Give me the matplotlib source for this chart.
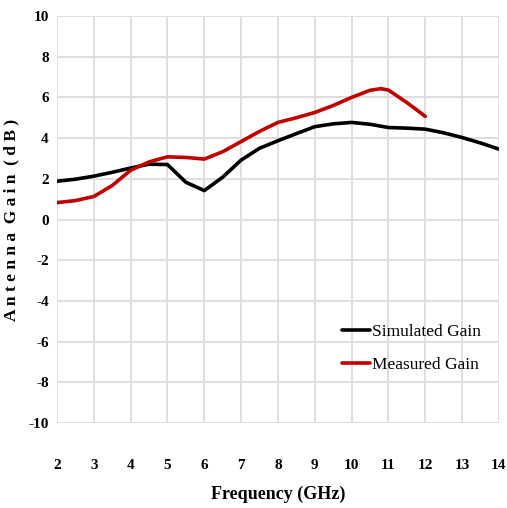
import numpy as np
import matplotlib
matplotlib.use('Agg')
from matplotlib import pyplot as plt

# Gain vs frequency, read at half-GHz steps
freq_sim = [2, 2.5, 3, 3.5, 4, 4.5, 5, 5.5, 6, 6.5, 7, 7.5, 8, 8.5, 9, 9.5,
            10, 10.5, 11, 11.5, 12, 12.5, 13, 13.5, 14]
gain_sim = [1.88, 1.98, 2.13, 2.32, 2.53, 2.72, 2.7, 1.83, 1.42, 2.08, 2.92,
            3.5, 3.87, 4.22, 4.56, 4.7, 4.77, 4.68, 4.52, 4.49, 4.44, 4.26, 4.03,
            3.76, 3.46]

freq_meas = [2, 2.5, 3, 3.5, 4, 4.5, 5, 5.5, 6, 6.5, 7, 7.5, 8, 8.5, 9, 9.5, 10,
             10.5, 10.8, 11, 11.5, 12]
gain_meas = [0.83, 0.93, 1.13, 1.67, 2.42, 2.83, 3.08, 3.05, 2.97, 3.33, 3.83,
             4.33, 4.77, 5.0, 5.26, 5.6, 6.0, 6.35, 6.43, 6.36, 5.75, 5.07]

xticks = list(range(2, 15))
yticks = list(range(-10, 11, 2))

serif = ['Liberation Serif', 'DejaVu Serif']

fig = plt.figure(figsize=(5.07, 5.08), dpi=100)
ax = fig.add_axes([0.1124, 0.1673, 0.8716, 0.8012])

ax.plot(freq_sim, gain_sim, color='black', lw=2.6, label='Simulated Gain',
        solid_capstyle='round', solid_joinstyle='round')
ax.plot(freq_meas, gain_meas, color='#c00000', lw=2.6, label='Measured Gain',
        solid_capstyle='round', solid_joinstyle='round')

ax.set_xlim(2, 14)
ax.set_ylim(-10, 10)
ax.set_xticks(xticks)
ax.set_yticks(yticks)
ax.set_xticklabels([str(t) for t in xticks], family=serif, fontweight='bold', fontsize=11)
ax.set_yticklabels([str(t) for t in yticks], family=serif, fontweight='bold', fontsize=11)
ax.tick_params(axis='x', length=0, pad=26)
ax.tick_params(axis='y', length=0, pad=6)

ax.grid(True, color='#dedede', lw=1.4)
ax.set_axisbelow(True)
for s in ax.spines.values():
    s.set_visible(False)

ax.set_xlabel('Frequency (GHz)', family=serif, fontweight='bold', fontsize=13, labelpad=10)
ax.set_ylabel('A n t e n n a  G a i n  ( d B )', family=serif, fontweight='bold',
              fontsize=12.5)
ax.yaxis.set_label_coords(-0.085, 0.5)

leg = ax.legend(loc='upper left', bbox_to_anchor=(0.63, 0.26), frameon=False,
                prop={'family': serif, 'size': 12.5}, handlelength=1.6,
                handletextpad=0.1, labelspacing=0.95, borderaxespad=0)

fig.savefig('out.png', dpi=100)
